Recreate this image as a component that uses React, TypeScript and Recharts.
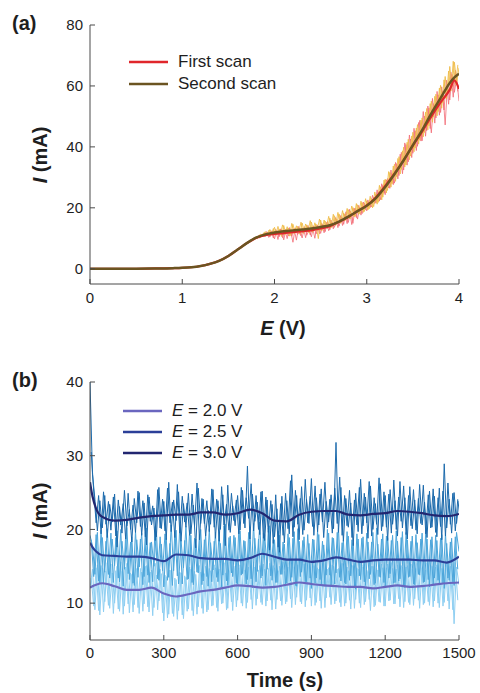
import React from 'react';
import { LineChart, Line, XAxis, YAxis, Legend, Label } from 'recharts';

const FONT = '"Liberation Sans", Arial, Helvetica, sans-serif';
const AXIS = '#4a4a4a';
const TXT = '#1e1e1e';

// ---------- panel (a): current vs potential ----------
const eTicks = [0, 1, 2, 3, 4];
const iTicksA = [0, 20, 40, 60, 80];
const smoothE = [0, 0.4, 0.7, 0.9, 1.0, 1.1, 1.2, 1.3, 1.4, 1.5, 1.6, 1.7, 1.8, 1.9, 2.0, 2.1, 2.2, 2.3, 2.4, 2.5, 2.6, 2.7, 2.8, 2.9, 3.0, 3.1, 3.2, 3.3, 3.4, 3.5, 3.6, 3.7, 3.8, 3.9, 3.95, 4.0];
const firstSmooth = [0, 0, 0.1, 0.2, 0.3, 0.5, 0.9, 1.6, 2.6, 4.2, 6.3, 8.4, 10.1, 11.0, 11.4, 11.7, 12.0, 12.3, 12.6, 13.2, 14.0, 15.4, 17.0, 18.9, 20.8, 23.5, 27.2, 31.2, 35.6, 40.4, 45.0, 50.0, 54.6, 58.8, 61.8, 59.0];
const secondSmooth = [0, 0, 0.1, 0.2, 0.3, 0.5, 0.9, 1.6, 2.6, 4.2, 6.3, 8.4, 10.2, 11.3, 11.9, 12.3, 12.6, 12.9, 13.2, 13.7, 14.3, 15.5, 17.1, 18.9, 20.7, 23.2, 26.8, 31.0, 35.6, 40.6, 45.5, 51.0, 56.0, 61.0, 62.8, 64.0];
const rawEStep = 0.025;
const rawEStartA = 1.6;
const rawEStartB = 1.6125;
const firstRawA = [
  6.3, 6.9, 7.2, 8.0, 8.3, 9.0, 9.1, 10.0, 9.9, 10.9, 10.3, 11.5, 10.6, 12.0, 10.4, 12.3,
  9.8, 12.6, 10.5, 12.9, 9.5, 13.0, 10.8, 12.4, 8.7, 13.4, 11.2, 12.0, 10.1, 13.8, 11.0, 12.9,
  10.5, 14.1, 11.4, 13.5, 11.6, 14.6, 12.2, 15.5, 12.8, 15.3, 13.6, 16.2, 14.0, 16.9, 14.6, 18.7,
  15.2, 18.9, 14.9, 19.8, 16.3, 20.2, 18.1, 21.5, 19.0, 21.8, 20.3, 23.4, 21.6, 25.1, 22.7, 27.4,
  24.3, 29.6, 26.4, 31.2, 28.1, 34.5, 30.6, 38.2, 32.4, 40.8, 35.1, 42.6, 37.9, 45.3, 40.2, 48.7,
  42.0, 50.1, 45.3, 52.8, 44.6, 54.2, 49.5, 57.1, 51.3, 58.4, 47.2, 60.6, 55.4, 63.8, 57.9, 62.5,
  55.0,
];
const firstRawB = [
  6.8, 6.7, 7.8, 7.9, 8.9, 8.8, 9.8, 9.6, 10.6, 10.1, 11.4, 10.5, 12.2, 10.3, 12.5, 10.1,
  12.9, 9.6, 13.1, 10.2, 12.8, 9.9, 13.5, 10.7, 13.2, 9.4, 13.9, 10.8, 13.3, 10.2, 14.2, 11.1,
  13.6, 10.0, 14.4, 11.5, 14.9, 11.8, 15.2, 12.5, 16.0, 13.1, 16.8, 13.5, 17.5, 14.2, 17.9, 14.8,
  19.5, 14.5, 19.9, 16.8, 20.8, 17.6, 21.9, 19.4, 22.6, 20.1, 24.1, 21.4, 25.9, 22.2, 27.9, 24.8,
  29.2, 26.5, 32.4, 27.6, 34.9, 29.5, 37.6, 31.2, 41.3, 34.0, 43.9, 36.5, 46.1, 38.8, 48.0, 41.9,
  51.6, 43.5, 53.4, 46.0, 55.9, 47.8, 58.2, 50.4, 59.7, 52.1, 61.9, 54.0, 64.5, 56.3, 65.1, 58.2,
];
const secondRawA = [
  6.4, 6.6, 7.5, 7.8, 8.6, 8.8, 9.6, 9.7, 10.6, 10.2, 11.4, 10.7, 12.2, 10.9, 12.9, 11.0,
  13.6, 11.2, 13.0, 10.6, 14.2, 11.5, 13.4, 10.9, 14.6, 11.8, 13.9, 11.3, 15.0, 12.1, 14.4, 11.7,
  15.3, 12.4, 14.7, 9.9, 16.0, 12.9, 15.6, 13.2, 16.6, 13.8, 17.4, 14.6, 18.0, 15.2, 18.3, 16.1,
  19.4, 16.5, 20.1, 17.2, 21.0, 18.0, 21.7, 18.8, 22.3, 19.6, 23.1, 20.4, 24.6, 21.8, 26.9, 23.5,
  29.4, 25.7, 31.6, 27.9, 34.3, 30.2, 36.8, 32.6, 39.9, 34.1, 42.5, 37.0, 44.8, 39.6, 47.3, 42.2,
  49.5, 44.7, 52.6, 46.9, 55.0, 49.8, 57.3, 51.6, 60.2, 54.5, 63.1, 57.2, 66.4, 59.6, 67.8, 61.2,
  66.0,
];
const secondRawB = [
  6.5, 7.3, 7.4, 8.4, 8.3, 9.4, 9.2, 10.3, 9.9, 11.1, 10.5, 11.9, 10.8, 12.6, 11.0, 13.2,
  11.0, 13.9, 11.4, 14.4, 11.1, 13.8, 10.7, 14.9, 11.5, 14.1, 12.0, 15.3, 11.6, 14.7, 12.3, 15.8,
  12.0, 15.1, 12.6, 16.3, 12.4, 16.0, 13.5, 17.2, 13.4, 17.9, 14.2, 18.5, 14.9, 19.1, 15.7, 19.8,
  16.4, 20.6, 17.0, 21.4, 17.8, 22.2, 18.5, 23.0, 19.3, 23.8, 20.0, 25.2, 21.2, 27.4, 22.6, 29.1,
  24.9, 31.9, 26.8, 33.7, 28.7, 36.2, 31.1, 38.7, 33.4, 41.5, 35.8, 43.6, 38.4, 46.2, 40.9, 48.8,
  43.3, 51.4, 45.6, 54.2, 48.1, 56.6, 50.2, 59.3, 52.7, 62.0, 55.8, 64.9, 58.3, 68.1, 60.5, 66.9,
];
const legendA = [
  { label: 'First scan', color: '#e0262b' },
  { label: 'Second scan', color: '#6b5421' },
];

// ---------- panel (b): current vs time ----------
const tTicks = [0, 300, 600, 900, 1200, 1500];
const iTicksB = [10, 20, 30, 40];
const smoothT = [0, 10, 25, 50, 100, 150, 200, 250, 300, 350, 400, 450, 500, 550, 600, 650, 700, 750, 800, 850, 900, 950, 1000, 1050, 1100, 1150, 1200, 1250, 1300, 1350, 1400, 1450, 1500];
const smooth20 = [12.1, 12.3, 12.5, 12.7, 12.3, 11.8, 11.8, 12.1, 11.3, 10.9, 11.2, 11.6, 11.8, 12.1, 12.4, 12.3, 12.1, 12.2, 12.5, 12.8, 12.6, 12.4, 12.3, 12.2, 12.2, 12.0, 12.2, 12.4, 12.2, 12.3, 12.5, 12.7, 12.8];
const smooth25 = [18.2, 17.6, 17.0, 16.5, 16.4, 16.3, 16.3, 16.1, 15.7, 16.6, 16.5, 16.1, 16.0, 16.0, 15.8, 16.1, 16.7, 16.3, 15.9, 15.9, 15.6, 15.8, 16.2, 15.9, 15.6, 15.8, 15.9, 15.9, 15.9, 15.8, 15.8, 15.5, 16.3];
const smooth30 = [26.4, 24.5, 22.8, 21.7, 21.2, 21.3, 21.6, 21.8, 21.9, 22.0, 22.0, 22.3, 22.3, 22.0, 22.2, 22.7, 22.2, 21.2, 21.1, 22.0, 22.4, 22.5, 22.5, 22.0, 21.9, 22.1, 22.2, 22.5, 22.4, 22.2, 21.9, 21.8, 22.1];
const rawTStep = 10;
const rawTStartA = 0;
const rawTStartB = 5;
const raw30A = [
  40, 27.5, 24.1, 19.8, 23.9, 20.2, 24.6, 18.9, 23.4, 21.0,
  24.8, 17.6, 23.1, 19.5, 25.3, 20.4, 22.7, 18.3, 24.2, 20.9,
  25.0, 19.2, 23.6, 17.9, 24.4, 20.6, 22.9, 19.0, 25.7, 20.1,
  23.8, 18.6, 26.4, 19.7, 24.0, 21.2, 25.1, 18.4, 23.5, 20.3,
  24.9, 19.4, 23.3, 17.5, 25.6, 20.8, 24.1, 19.1, 22.6, 20.7,
  25.4, 18.8, 23.9, 20.0, 24.7, 17.8, 26.0, 19.6, 23.2, 20.5,
  24.6, 19.9, 25.3, 20.2, 28.6, 18.7, 24.8, 21.1, 23.7, 19.3,
  25.2, 18.5, 24.0, 17.2, 23.4, 19.0, 22.8, 16.9, 24.5, 18.2,
  23.9, 19.4, 27.4, 20.3, 24.6, 18.6, 25.8, 19.9, 24.1, 20.8,
  26.9, 19.2, 24.3, 20.6, 25.5, 18.9, 23.8, 21.0, 24.7, 20.1,
  31.8, 19.6, 25.7, 18.4, 24.2, 20.3, 23.6, 17.8, 24.9, 19.7,
  26.8, 20.5, 24.4, 18.8, 25.9, 20.0, 23.5, 19.3, 26.2, 20.4,
  24.6, 18.5, 25.4, 20.7, 23.9, 19.1, 26.5, 20.2, 24.3, 18.7,
  25.8, 20.1, 24.0, 19.4, 26.1, 20.6, 23.7, 18.9, 25.2, 20.3,
  24.5, 19.0, 25.6, 18.6, 28.9, 20.2, 24.1, 19.5, 25.0, 20.8,
  23.9,
];
const raw30B = [
  30.5, 25.2, 20.9, 24.6, 19.4, 25.1, 20.7, 23.8, 19.9, 24.4,
  19.1, 24.0, 20.6, 23.5, 18.7, 24.9, 20.0, 23.3, 19.6, 25.2,
  20.4, 23.9, 19.0, 24.7, 21.1, 23.2, 18.5, 25.4, 20.2, 24.1,
  19.8, 25.6, 20.9, 23.7, 18.9, 26.1, 19.5, 24.5, 21.0, 23.6,
  19.2, 24.8, 20.5, 26.3, 18.6, 24.2, 20.8, 23.9, 19.7, 25.5,
  20.3, 24.1, 18.4, 25.8, 20.6, 23.4, 19.9, 24.9, 21.2, 24.0,
  19.4, 25.7, 20.8, 24.3, 21.5, 26.2, 19.8, 24.6, 20.0, 25.1,
  18.8, 24.4, 19.6, 23.9, 18.1, 24.7, 17.6, 23.5, 19.2, 24.9,
  20.1, 26.6, 19.0, 25.3, 20.7, 24.2, 19.3, 26.8, 20.9, 24.5,
  20.4, 25.9, 19.7, 24.8, 21.0, 26.4, 20.2, 24.1, 19.5, 25.6,
  20.8, 27.1, 19.2, 24.6, 20.5, 25.3, 18.9, 24.0, 20.6, 25.7,
  19.4, 24.9, 20.9, 26.5, 19.1, 24.3, 20.7, 27.0, 19.8, 25.1,
  20.3, 24.8, 19.5, 26.7, 20.0, 24.4, 21.1, 25.9, 19.3, 24.6,
  20.5, 25.4, 19.9, 24.2, 20.8, 26.0, 19.4, 24.7, 20.2, 25.5,
  19.6, 24.3, 20.4, 25.2, 19.1, 26.3, 20.7, 24.9, 19.8, 24.1,
];
const raw25A = [
  19.2, 17.8, 13.9, 19.6, 12.7, 18.9, 14.2, 20.1, 13.4, 18.7,
  15.1, 19.8, 12.9, 18.4, 14.6, 20.3, 13.2, 19.0, 12.4, 18.6,
  14.9, 19.5, 13.6, 20.2, 12.8, 18.3, 15.0, 19.7, 13.1, 18.0,
  12.2, 18.8, 13.5, 20.6, 14.4, 19.9, 12.6, 18.5, 14.8, 20.4,
  13.3, 19.2, 12.5, 18.7, 14.1, 20.0, 13.0, 19.4, 12.3, 18.2,
  14.5, 19.6, 12.9, 18.1, 13.8, 20.7, 12.4, 19.1, 13.6, 18.9,
  12.6, 19.8, 14.0, 18.4, 13.2, 20.1, 12.1, 18.8, 14.3, 21.0,
  13.7, 19.3, 14.6, 20.5, 13.1, 18.6, 12.8, 19.2, 13.9, 18.0,
  12.7, 18.9, 13.5, 19.7, 12.3, 18.4, 14.2, 19.0, 12.9, 18.1,
  12.0, 18.6, 13.4, 19.3, 12.5, 17.9, 13.8, 19.5, 12.2, 18.8,
  14.1, 20.2, 13.0, 18.5, 12.6, 19.1, 13.7, 18.2, 11.9, 18.7,
  13.2, 19.0, 12.4, 18.3, 13.9, 19.6, 12.7, 18.0, 13.5, 19.4,
  12.3, 18.9, 14.0, 19.2, 12.8, 18.4, 13.3, 19.7, 12.1, 18.6,
  13.6, 19.1, 12.5, 18.2, 13.8, 19.5, 12.9, 18.7, 12.2, 19.0,
  13.4, 18.5, 12.6, 19.3, 12.0, 18.1, 13.1, 18.8, 12.4, 19.6,
  17.0,
];
const raw25B = [
  18.6, 13.6, 19.3, 13.0, 19.9, 12.6, 18.4, 13.9, 19.5, 12.8,
  18.9, 13.4, 20.0, 12.3, 19.2, 14.0, 18.3, 12.7, 19.8, 13.5,
  18.7, 12.5, 19.6, 13.8, 18.2, 12.9, 20.4, 13.3, 19.0, 14.4,
  19.4, 13.1, 18.1, 12.4, 19.7, 13.7, 20.3, 12.6, 18.5, 13.2,
  19.9, 12.8, 18.8, 14.2, 19.3, 12.5, 18.6, 13.6, 20.1, 12.9,
  18.4, 13.5, 19.7, 12.2, 20.5, 13.0, 18.9, 14.1, 19.2, 12.7,
  20.0, 13.8, 18.5, 12.6, 19.6, 13.3, 20.8, 12.9, 18.7, 13.4,
  19.5, 12.4, 20.2, 13.7, 18.6, 12.8, 19.8, 13.9, 18.3, 12.5,
  19.4, 13.0, 18.8, 12.4, 20.1, 13.6, 18.5, 12.9, 19.3, 13.4,
  18.7, 12.7, 19.9, 13.2, 18.4, 12.3, 20.0, 13.8, 18.9, 12.6,
  19.6, 13.5, 18.2, 12.8, 19.7, 13.1, 18.6, 12.2, 19.4, 13.7,
  18.8, 12.9, 19.5, 13.3, 18.3, 12.5, 20.2, 13.6, 18.7, 12.8,
  19.1, 13.4, 18.5, 12.7, 19.8, 13.0, 18.9, 12.4, 19.6, 13.5,
  18.4, 12.6, 19.3, 13.9, 18.7, 12.8, 19.9, 13.2, 18.6, 12.5,
  19.2, 13.1, 18.8, 12.7, 19.5, 13.4, 18.3, 12.9, 19.0, 14.6,
];
const raw20A = [
  12.0, 14.6, 9.1, 15.2, 8.4, 14.8, 10.2, 15.5, 9.3, 14.1,
  10.0, 15.0, 8.9, 14.3, 9.6, 15.4, 8.7, 13.9, 9.8, 14.7,
  8.6, 14.2, 9.9, 15.1, 8.8, 14.5, 9.4, 13.8, 10.3, 14.0,
  7.6, 13.6, 8.5, 14.4, 8.2, 13.2, 9.0, 14.1, 7.9, 13.5,
  9.2, 14.6, 8.3, 13.9, 9.5, 14.2, 8.6, 15.0, 9.1, 14.4,
  9.7, 14.8, 8.9, 15.3, 10.0, 14.1, 9.3, 15.6, 9.0, 14.7,
  10.4, 15.2, 9.6, 14.5, 10.1, 15.8, 9.2, 14.9, 10.6, 15.1,
  9.8, 14.6, 10.3, 15.4, 9.1, 14.8, 10.5, 15.0, 9.7, 14.3,
  10.2, 15.5, 9.4, 14.9, 10.8, 16.0, 9.9, 15.3, 10.4, 15.7,
  9.6, 15.1, 10.1, 14.6, 9.3, 15.4, 10.7, 14.8, 9.8, 15.0,
  10.3, 14.7, 9.5, 15.2, 10.0, 14.4, 9.2, 15.1, 10.5, 14.6,
  9.4, 14.9, 10.2, 14.3, 9.0, 15.0, 9.7, 14.5, 10.1, 14.8,
  9.6, 15.3, 10.4, 14.7, 9.9, 15.2, 9.5, 14.9, 10.2, 15.1,
  9.8, 14.6, 10.6, 15.4, 9.3, 14.8, 10.0, 15.5, 9.7, 15.0,
  10.3, 15.2, 9.4, 14.7, 10.1, 15.6, 9.2, 15.3, 7.2, 14.9,
  12.5,
];
const raw20B = [
  13.4, 9.6, 14.8, 9.0, 15.1, 8.8, 14.3, 9.7, 15.3, 8.6,
  14.4, 9.2, 15.6, 8.5, 14.9, 9.9, 14.1, 8.8, 15.2, 9.4,
  14.7, 8.9, 15.0, 9.5, 14.2, 8.3, 15.4, 9.1, 14.6, 8.7,
  13.8, 8.0, 14.5, 8.6, 13.4, 7.8, 14.2, 8.4, 13.7, 8.9,
  14.9, 9.0, 14.3, 8.5, 15.1, 9.3, 14.0, 8.8, 14.7, 9.6,
  15.2, 9.4, 14.6, 9.9, 15.5, 9.1, 14.4, 10.2, 15.0, 9.5,
  14.8, 10.0, 15.4, 9.3, 14.9, 10.5, 15.6, 9.7, 14.5, 10.1,
  15.3, 9.6, 14.7, 10.4, 15.1, 9.2, 14.4, 10.3, 15.6, 9.9,
  14.9, 10.6, 15.7, 9.8, 15.2, 10.2, 16.1, 9.5, 15.0, 10.7,
  15.5, 9.7, 14.8, 10.3, 15.3, 9.4, 14.6, 10.8, 15.2, 9.9,
  14.6, 10.1, 15.4, 9.6, 14.9, 10.4, 15.1, 9.3, 14.8, 10.0,
  15.2, 9.8, 14.5, 10.5, 15.0, 9.5, 14.7, 10.2, 15.3, 9.6,
  14.8, 10.3, 15.5, 9.9, 14.6, 10.6, 15.1, 9.4, 14.9, 10.1,
  15.3, 9.7, 14.7, 10.4, 15.6, 9.8, 14.5, 10.2, 15.2, 9.5,
  14.9, 10.0, 15.4, 9.6, 14.7, 10.3, 15.0, 9.1, 15.5, 10.4,
];
const legendB = [
  { v: '2.0', color: '#6a66bf' },
  { v: '2.5', color: '#2b3f98' },
  { v: '3.0', color: '#222670' },
];

const pairs = (xs: number[], ys: number[]) => ys.map((y, i) => ({ x: xs[i], y }));
const grid = (start: number, step: number, ys: number[]) =>
  ys.map((y, i) => ({ x: +(start + step * i).toFixed(4), y }));

const firstSmoothData = pairs(smoothE, firstSmooth);
const secondSmoothData = pairs(smoothE, secondSmooth);
const rawA = [
  { data: grid(rawEStartA, rawEStep, firstRawA), color: '#f26a74', op: 0.8 },
  { data: grid(rawEStartB, rawEStep, firstRawB), color: '#f26a74', op: 0.8 },
  { data: grid(rawEStartA, rawEStep, secondRawA), color: '#efbb45', op: 0.85 },
  { data: grid(rawEStartB, rawEStep, secondRawB), color: '#efbb45', op: 0.85 },
];
const rawB = [
  { data: grid(rawTStartA, rawTStep, raw20A), color: '#8fcff2' },
  { data: grid(rawTStartB, rawTStep, raw20B), color: '#8fcff2' },
  { data: grid(rawTStartA, rawTStep, raw25A), color: '#4da6db' },
  { data: grid(rawTStartB, rawTStep, raw25B), color: '#4da6db' },
  { data: grid(rawTStartA, rawTStep, raw30A), color: '#1c6aac' },
  { data: grid(rawTStartB, rawTStep, raw30B), color: '#1c6aac' },
];
const s20 = pairs(smoothT, smooth20);
const s25 = pairs(smoothT, smooth25);
const s30 = pairs(smoothT, smooth30);

const tickStyle = { fill: TXT, fontSize: 15, fontFamily: FONT };

function LegendBox({ rows, lineX, textGap, rowH }: { rows: { label: React.ReactNode; color: string }[]; lineX: number; textGap: number; rowH: number }) {
  return (
    <div style={{ fontFamily: FONT, fontSize: 17, color: TXT, whiteSpace: 'nowrap' }}>
      {rows.map((r, i) => (
        <div key={i} style={{ display: 'flex', alignItems: 'center', height: rowH }}>
          <svg width={lineX} height={6} style={{ display: 'block' }}>
            <line x1={0} x2={lineX} y1={3} y2={3} stroke={r.color} strokeWidth={2.5} />
          </svg>
          <span style={{ marginLeft: textGap }}>{r.label}</span>
        </div>
      ))}
    </div>
  );
}

export default function App() {
  return (
    <div style={{ position: 'absolute', left: 0, top: 0, width: 480, height: 693, background: '#fff' }}>
      <div style={{ position: 'absolute', left: 0, top: 0 }}>
        <LineChart width={480} height={345} margin={{ top: 25, right: 21, bottom: 0, left: 0 }}>
          <XAxis dataKey="x" type="number" domain={[0, 4]} ticks={eTicks} interval={0} height={61}
            tickSize={-5} tickMargin={13} axisLine={{ stroke: AXIS }} tickLine={{ stroke: AXIS }} tick={tickStyle} allowDataOverflow>
            <Label content={() => (
              <text x={283} y={335} textAnchor="middle" fontFamily={FONT} fontSize={20} fontWeight="bold" fill={TXT}>
                <tspan fontStyle="italic">E</tspan> (V)
              </text>
            )} />
          </XAxis>
          <XAxis xAxisId="top" orientation="top" dataKey="x" type="number" domain={[0, 4]} height={0} tick={false} tickLine={false} axisLine={{ stroke: AXIS }} />
          <YAxis type="number" domain={[-5, 80]} ticks={iTicksA} interval={0} width={90}
            tickSize={-5} tickMargin={12} axisLine={{ stroke: AXIS }} tickLine={{ stroke: AXIS }} tick={tickStyle} allowDataOverflow>
            <Label content={() => (
              <g>
                <text x={12} y={30} fontFamily={FONT} fontSize={20} fontWeight="bold" fill={TXT}>(a)</text>
                <text transform="translate(40,155) rotate(-90)" textAnchor="middle" dominantBaseline="central" fontFamily={FONT} fontSize={20} fontWeight="bold" fill={TXT}>
                  <tspan fontStyle="italic">I</tspan> (mA)
                </text>
              </g>
            )} />
          </YAxis>
          <YAxis yAxisId="right" orientation="right" type="number" domain={[-5, 80]} width={0} tick={false} tickLine={false} axisLine={{ stroke: AXIS }} />
          {rawA.map((r, i) => (
            <Line key={'ra' + i} data={r.data} dataKey="y" type="linear" stroke={r.color} strokeOpacity={r.op} strokeWidth={1} dot={false} activeDot={false} isAnimationActive={false} legendType="none" />
          ))}
          <Line data={firstSmoothData} dataKey="y" type="monotone" stroke="#e0262b" strokeWidth={2.2} dot={false} activeDot={false} isAnimationActive={false} />
          <Line data={secondSmoothData} dataKey="y" type="monotone" stroke="#6b5421" strokeWidth={2.5} dot={false} activeDot={false} isAnimationActive={false} />
          <Legend layout="horizontal" verticalAlign="middle" align="center"
            wrapperStyle={{ left: 129, top: 51, width: 220, height: 44 }}
            content={() => <LegendBox rows={legendA} lineX={39} textGap={10} rowH={22} />} />
        </LineChart>
      </div>
      <div style={{ position: 'absolute', left: 0, top: 350 }}>
        <LineChart width={480} height={343} margin={{ top: 32, right: 21, bottom: 0, left: 0 }}>
          <XAxis dataKey="x" type="number" domain={[0, 1500]} ticks={tTicks} interval={0} height={53}
            tickSize={-5} tickMargin={12} axisLine={{ stroke: AXIS }} tickLine={{ stroke: AXIS }} tick={tickStyle} allowDataOverflow>
            <Label content={() => (
              <text x={285} y={337} textAnchor="middle" fontFamily={FONT} fontSize={20} fontWeight="bold" fill={TXT}>Time (s)</text>
            )} />
          </XAxis>
          <XAxis xAxisId="top" orientation="top" dataKey="x" type="number" domain={[0, 1500]} height={0} tick={false} tickLine={false} axisLine={{ stroke: AXIS }} />
          <YAxis type="number" domain={[5, 40]} ticks={iTicksB} interval={0} width={90}
            tickSize={-5} tickMargin={12} axisLine={{ stroke: AXIS }} tickLine={{ stroke: AXIS }} tick={tickStyle} allowDataOverflow>
            <Label content={() => (
              <g>
                <text x={12} y={37} fontFamily={FONT} fontSize={20} fontWeight="bold" fill={TXT}>(b)</text>
                <text transform="translate(40,161) rotate(-90)" textAnchor="middle" dominantBaseline="central" fontFamily={FONT} fontSize={20} fontWeight="bold" fill={TXT}>
                  <tspan fontStyle="italic">I</tspan> (mA)
                </text>
              </g>
            )} />
          </YAxis>
          <YAxis yAxisId="right" orientation="right" type="number" domain={[5, 40]} width={0} tick={false} tickLine={false} axisLine={{ stroke: AXIS }} />
          {rawB.map((r, i) => (
            <Line key={'rb' + i} data={r.data} dataKey="y" type="linear" stroke={r.color} strokeWidth={1} dot={false} activeDot={false} isAnimationActive={false} legendType="none" />
          ))}
          <Line data={s20} dataKey="y" type="monotone" stroke={legendB[0].color} strokeWidth={2.2} dot={false} activeDot={false} isAnimationActive={false} />
          <Line data={s25} dataKey="y" type="monotone" stroke={legendB[1].color} strokeWidth={2.2} dot={false} activeDot={false} isAnimationActive={false} />
          <Line data={s30} dataKey="y" type="monotone" stroke={legendB[2].color} strokeWidth={2.2} dot={false} activeDot={false} isAnimationActive={false} />
          <Legend layout="horizontal" verticalAlign="middle" align="center"
            wrapperStyle={{ left: 123, top: 50.5, width: 220, height: 63 }}
            content={() => (
              <LegendBox
                rows={legendB.map((b) => ({ label: <><i>E</i> = {b.v} V</>, color: b.color }))}
                lineX={39} textGap={10} rowH={21} />
            )} />
        </LineChart>
      </div>
    </div>
  );
}
